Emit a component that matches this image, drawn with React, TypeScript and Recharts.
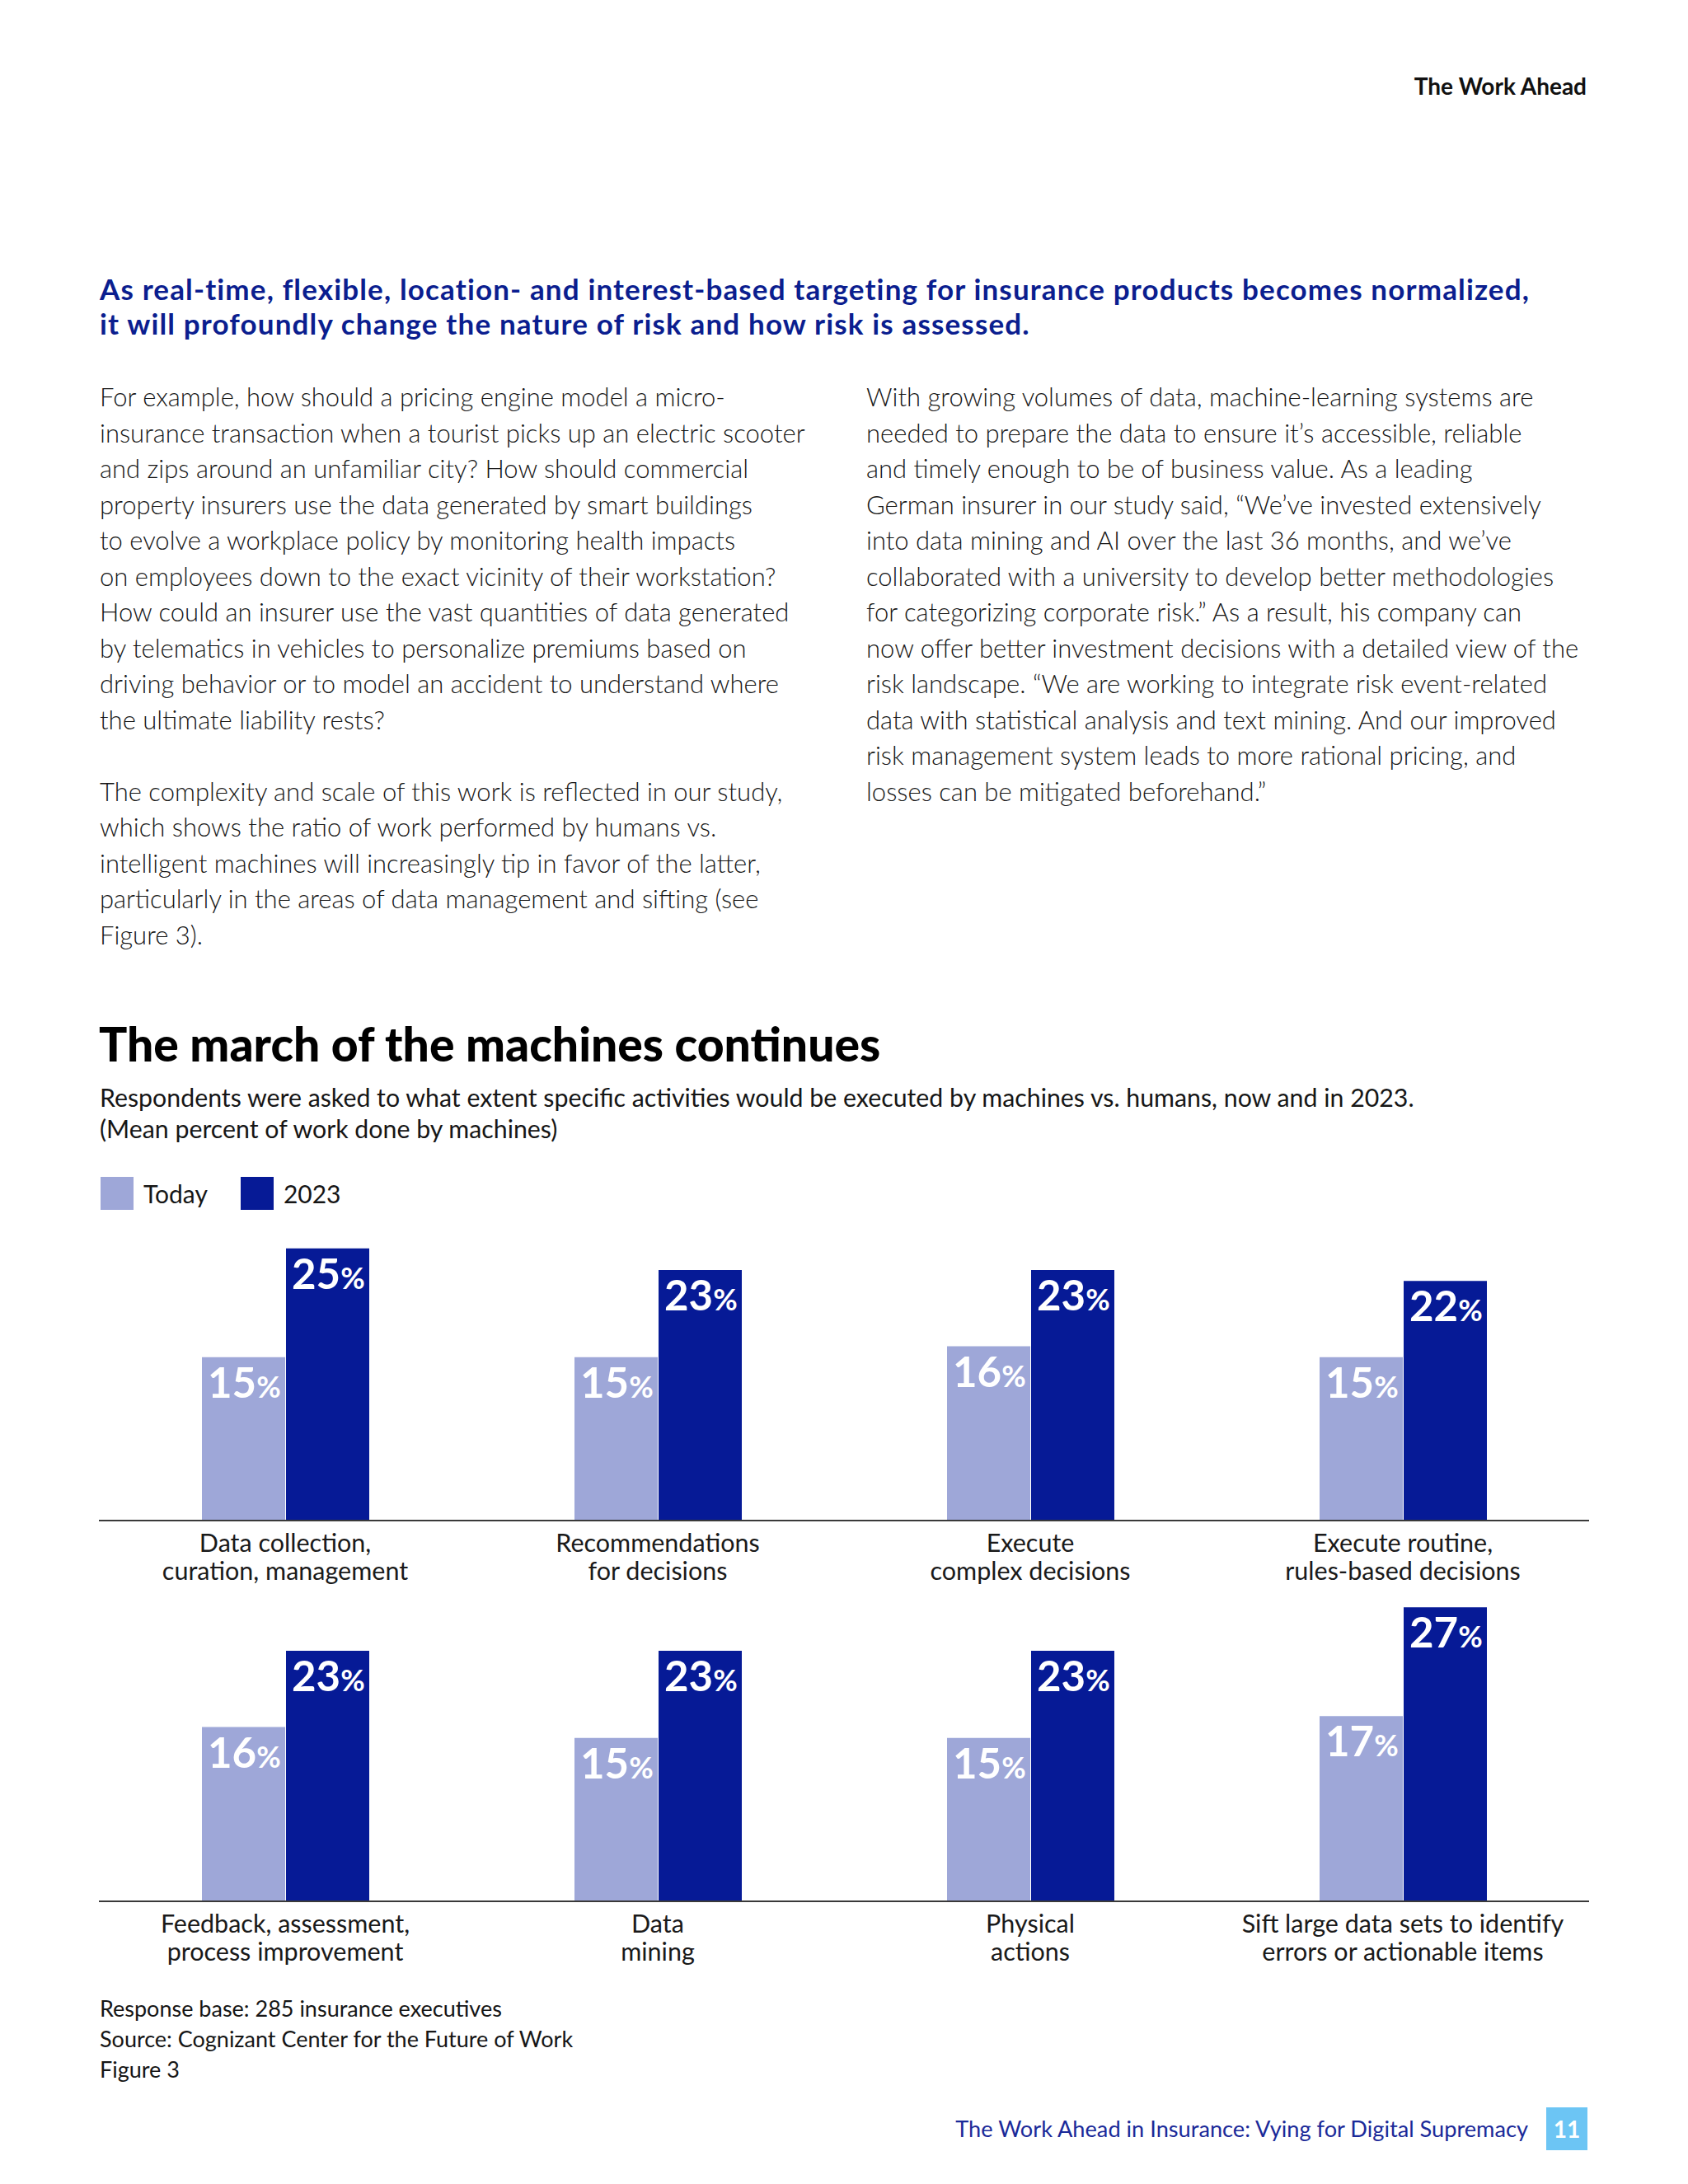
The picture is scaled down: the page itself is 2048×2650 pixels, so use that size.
import React from 'react'
import { BarChart, Bar, XAxis, YAxis, LabelList } from 'recharts'

const SERIES = ['Today', '2023']
const COLORS = ['#9ea7d8', '#061a96']

const topCategories = [
    'Data collection,\ncuration, management',
    'Recommendations\nfor decisions',
    'Execute\ncomplex decisions',
    'Execute routine,\nrules-based decisions',
]
const topToday = [15, 15, 16, 15]
const top2023 = [25, 23, 23, 22]

const bottomCategories = [
    'Feedback, assessment,\nprocess improvement',
    'Data\nmining',
    'Physical\nactions',
    'Sift large data sets to identify\nerrors or actionable items',
]
const bottomToday = [16, 15, 15, 17]
const bottom2023 = [23, 23, 23, 27]

const notes = [
    'Response base: 285 insurance executives',
    'Source: Cognizant Center for the Future of Work',
    'Figure 3',
]

const headline = [
    'As real-time, flexible, location- and interest-based targeting for insurance products becomes normalized,',
    'it will profoundly change the nature of risk and how risk is assessed.',
]

const leftColumn = [
    'For example, how should a pricing engine model a micro-',
    'insurance transaction when a tourist picks up an electric scooter',
    'and zips around an unfamiliar city? How should commercial',
    'property insurers use the data generated by smart buildings',
    'to evolve a workplace policy by monitoring health impacts',
    'on employees down to the exact vicinity of their workstation?',
    'How could an insurer use the vast quantities of data generated',
    'by telematics in vehicles to personalize premiums based on',
    'driving behavior or to model an accident to understand where',
    'the ultimate liability rests?',
    '',
    'The complexity and scale of this work is reflected in our study,',
    'which shows the ratio of work performed by humans vs.',
    'intelligent machines will increasingly tip in favor of the latter,',
    'particularly in the areas of data management and sifting (see',
    'Figure 3).',
]

const rightColumn = [
    'With growing volumes of data, machine-learning systems are',
    'needed to prepare the data to ensure it\u2019s accessible, reliable',
    'and timely enough to be of business value. As a leading',
    'German insurer in our study said, \u201cWe\u2019ve invested extensively',
    'into data mining and AI over the last 36 months, and we\u2019ve',
    'collaborated with a university to develop better methodologies',
    'for categorizing corporate risk.\u201d As a result, his company can',
    'now offer better investment decisions with a detailed view of the',
    'risk landscape. \u201cWe are working to integrate risk event-related',
    'data with statistical analysis and text mining. And our improved',
    'risk management system leads to more rational pricing, and',
    'losses can be mitigated beforehand.\u201d',
]

const FONT = 'Lato, "Open Sans", sans-serif'
const BLUE = '#0b1e8f'

function CategoryTick(props: any) {
    const { x, y, payload } = props
    const lines = String(payload.value).split('\n')
    return (
        <g>
            {lines.map((line: string, i: number) => (
                <text
                    key={i}
                    x={x}
                    y={y + 38 + i * 34}
                    textAnchor="middle"
                    fontFamily={FONT}
                    fontSize={30.5}
                    fill="#1a1a1a"
                >
                    {line}
                </text>
            ))}
        </g>
    )
}

function PctLabel(props: any) {
    const { x, y, value } = props
    return (
        <text x={x + 7} y={y + 49} fill="#ffffff" fontFamily={FONT} fontWeight={700}>
            <tspan fontSize={51}>{value}</tspan>
            <tspan fontSize={36}>%</tspan>
        </text>
    )
}

type RowProps = {
    categories: string[]
    today: number[]
    future: number[]
    top: number
    marginTop: number
}

function ChartRow({ categories, today, future, top, marginTop }: RowProps) {
    const data = categories.map((name, i) => ({ name, today: today[i], future: future[i] }))
    return (
        <div style={{ position: 'absolute', left: 120, top }}>
            <BarChart
                width={1808}
                height={marginTop + 370 + 80}
                data={data}
                margin={{ top: marginTop, right: 0, bottom: 0, left: 0 }}
                barGap={1}
                barSize={101}
            >
                <YAxis hide domain={[0, 28]} />
                <XAxis
                    dataKey="name"
                    interval={0}
                    height={80}
                    tickLine={false}
                    tickSize={0}
                    tickMargin={0}
                    axisLine={{ stroke: '#3a3a3a', strokeWidth: 2 }}
                    tick={<CategoryTick />}
                />
                <Bar dataKey="today" name={SERIES[0]} fill={COLORS[0]} isAnimationActive={false}>
                    <LabelList dataKey="today" content={<PctLabel />} />
                </Bar>
                <Bar dataKey="future" name={SERIES[1]} fill={COLORS[1]} isAnimationActive={false}>
                    <LabelList dataKey="future" content={<PctLabel />} />
                </Bar>
            </BarChart>
        </div>
    )
}

export default function App() {
    return (
        <div
            style={{
                position: 'absolute',
                left: 0,
                top: 0,
                width: 2048,
                height: 2650,
                background: '#ffffff',
                fontFamily: FONT,
                color: '#161616',
                overflow: 'hidden',
            }}
        >
            <div style={{ position: 'absolute', right: 123, top: 86, fontSize: 28, fontWeight: 700, lineHeight: '36px', color: '#111' }}>
                The Work Ahead
            </div>

            <div style={{ position: 'absolute', left: 121, top: 329, fontSize: 35, fontWeight: 700, letterSpacing: 1.15, lineHeight: '42px', color: BLUE, whiteSpace: 'pre' }}>
                {headline.join('\n')}
            </div>

            <div style={{ position: 'absolute', left: 121, top: 460, fontSize: 31, fontWeight: 300, lineHeight: '43.5px', whiteSpace: 'pre' }}>
                {leftColumn.join('\n')}
            </div>
            <div style={{ position: 'absolute', left: 1051, top: 460, fontSize: 31, fontWeight: 300, lineHeight: '43.5px', whiteSpace: 'pre' }}>
                {rightColumn.join('\n')}
            </div>

            <div style={{ position: 'absolute', left: 120, top: 1235, fontSize: 57, fontWeight: 900, lineHeight: '62px', color: '#000' }}>
                The march of the machines continues
            </div>
            <div style={{ position: 'absolute', left: 121, top: 1312, fontSize: 30.3, fontWeight: 400, lineHeight: '38px', whiteSpace: 'pre' }}>
                {'Respondents were asked to what extent specific activities would be executed by machines vs. humans, now and in 2023.\n(Mean percent of work done by machines)'}
            </div>

            <div style={{ position: 'absolute', left: 122, top: 1428, display: 'flex', alignItems: 'center', height: 40 }}>
                {SERIES.map((s, i) => (
                    <div key={s} style={{ display: 'flex', alignItems: 'center', marginRight: 40 }}>
                        <div style={{ width: 40, height: 40, background: COLORS[i], marginRight: 12 }} />
                        <span style={{ fontSize: 30 }}>{s}</span>
                    </div>
                ))}
            </div>

            <ChartRow categories={topCategories} today={topToday} future={top2023} top={1440} marginTop={35} />
            <ChartRow categories={bottomCategories} today={bottomToday} future={bottom2023} top={1925} marginTop={12} />

            <div style={{ position: 'absolute', left: 121, top: 2418, fontSize: 27, lineHeight: '37px', whiteSpace: 'pre' }}>
                {notes.join('\n')}
            </div>

            <div style={{ position: 'absolute', right: 194, top: 2566, fontSize: 27.2, lineHeight: '34px', color: '#1b2a99' }}>
                The Work Ahead in Insurance: Vying for Digital Supremacy
            </div>
            <div
                style={{
                    position: 'absolute',
                    left: 1876,
                    top: 2557,
                    width: 50,
                    height: 52,
                    background: '#6cc5f4',
                    color: '#fff',
                    fontSize: 28,
                    fontWeight: 700,
                    display: 'flex',
                    alignItems: 'center',
                    justifyContent: 'center',
                }}
            >
                11
            </div>
        </div>
    )
}
